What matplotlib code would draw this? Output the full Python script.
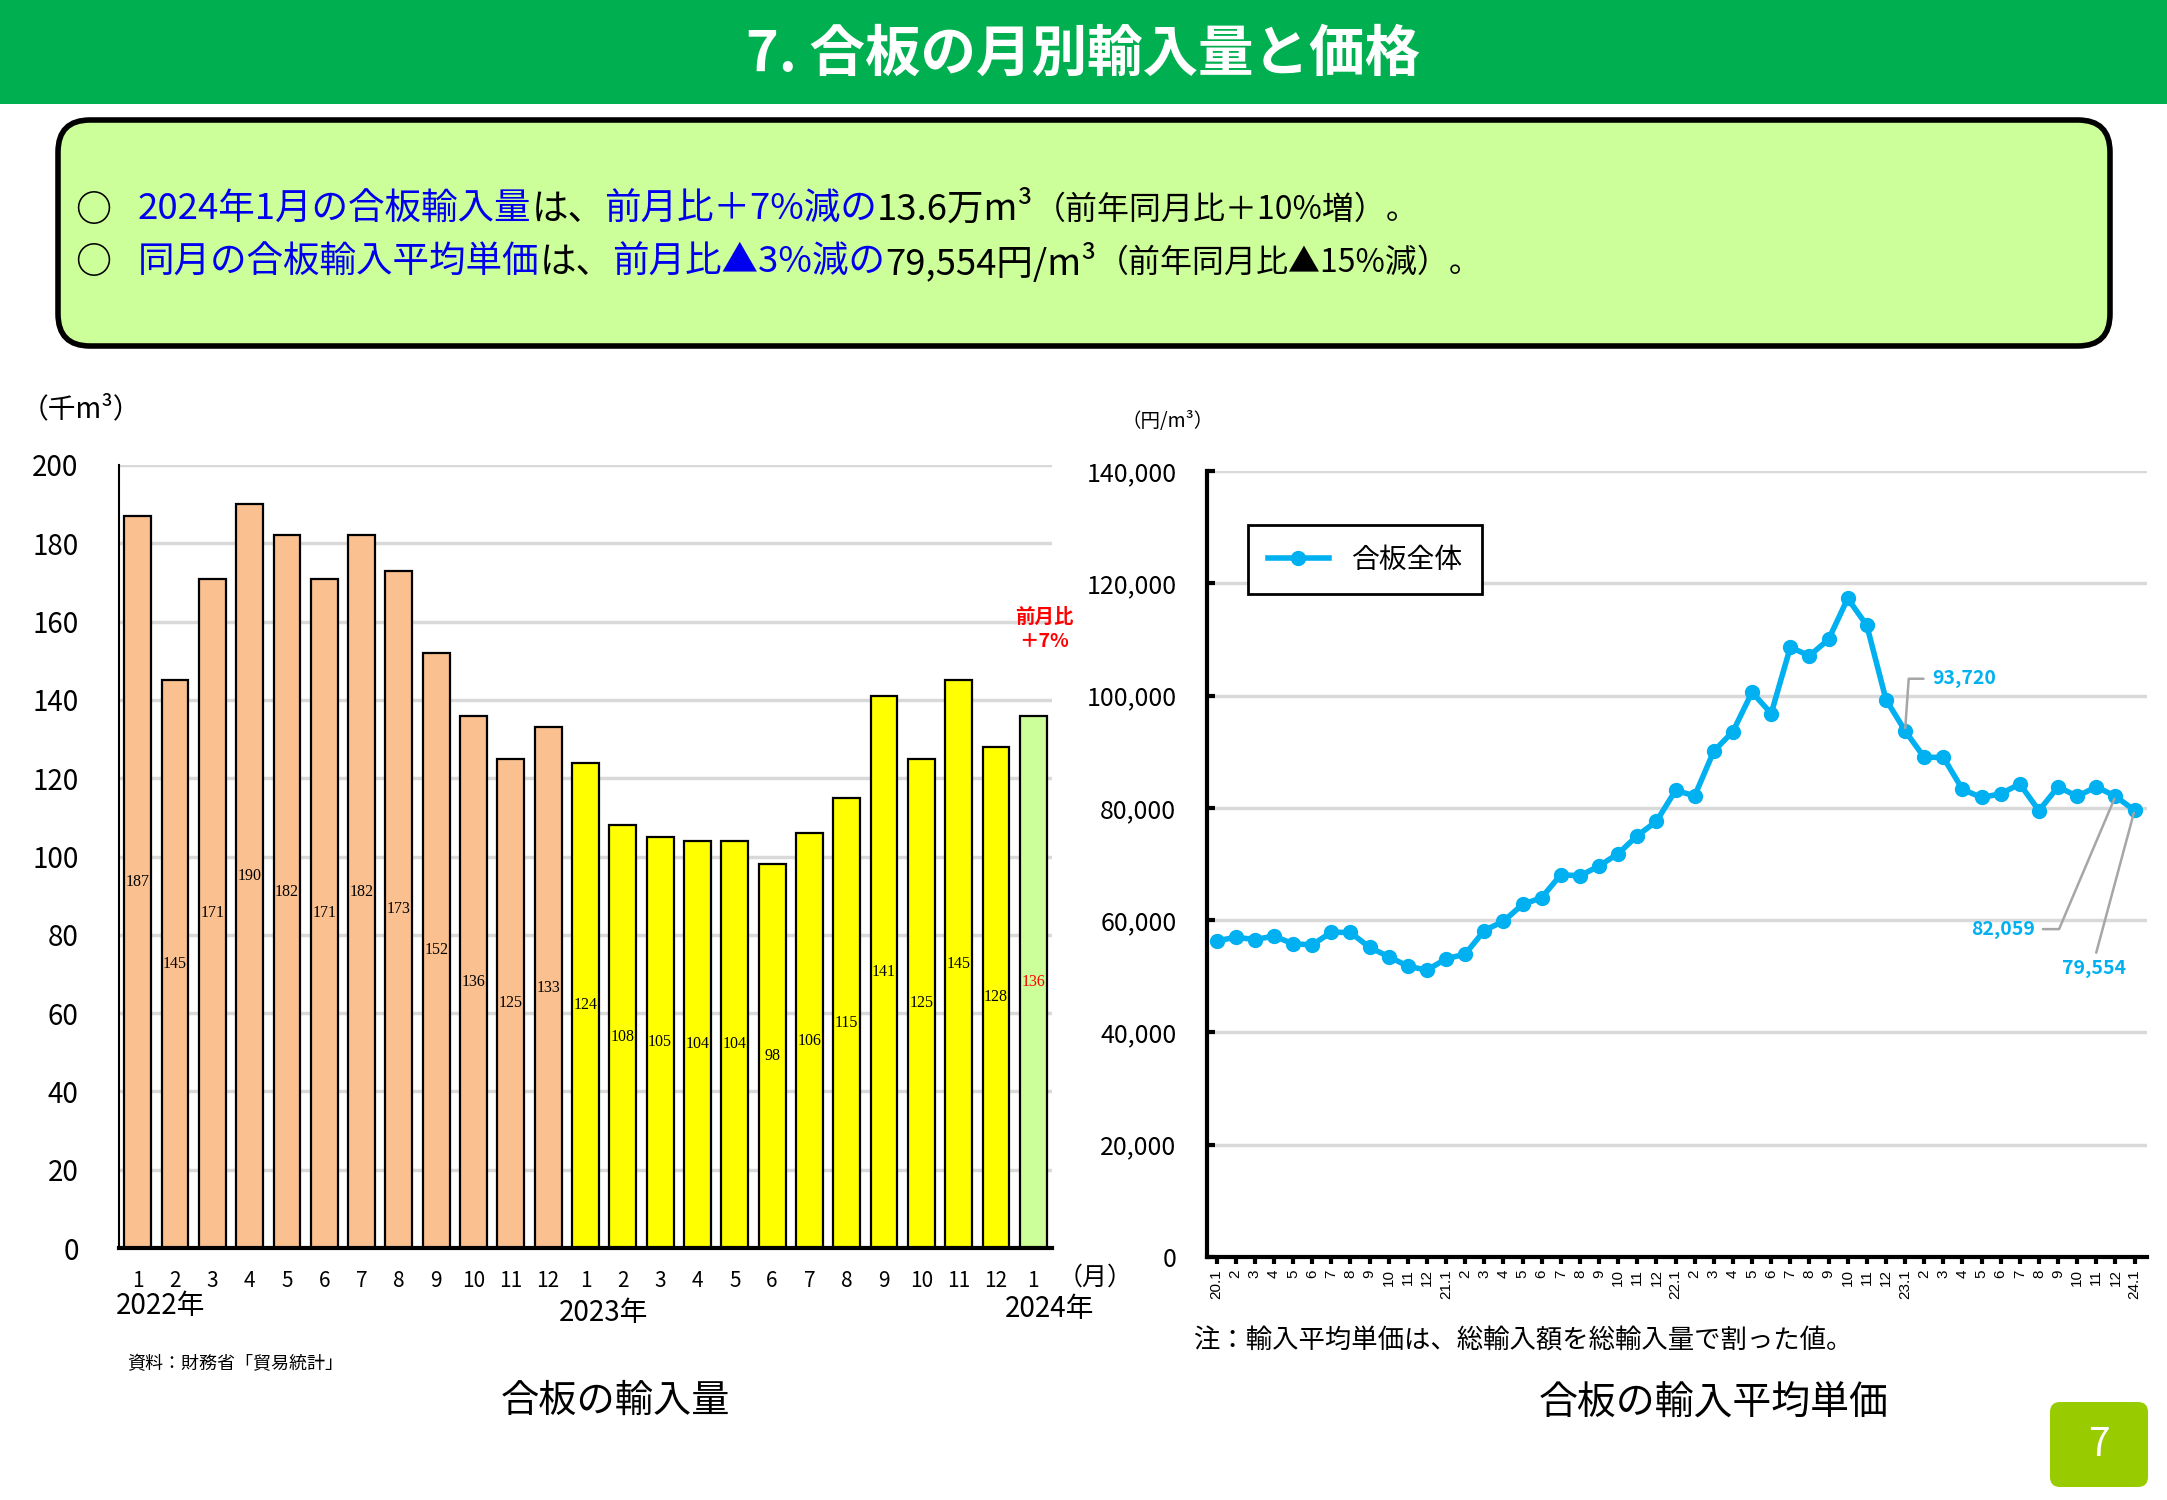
import matplotlib
matplotlib.use('Agg')
import matplotlib.pyplot as plt
from matplotlib.patches import Rectangle, FancyBboxPatch
from matplotlib.ticker import FuncFormatter

plt.rcParams['font.family'] = ['Noto Sans CJK JP', 'DejaVu Sans']

# 合板の輸入量（千m3）
months = ['1', '2', '3', '4', '5', '6', '7', '8', '9', '10', '11', '12',
          '1', '2', '3', '4', '5', '6', '7', '8', '9', '10', '11', '12', '1']
vol_2022 = [187, 145, 171, 190, 182, 171, 182, 173, 152, 136, 125, 133]
vol_2023 = [124, 108, 105, 104, 104, 98, 106, 115, 141, 125, 145, 128]
vol_2024 = [136]
year_labels = ['2022年', '2023年', '2024年']

# 合板の輸入平均単価（円/m3） 2020.1 - 2024.1
price = [56300, 56950, 56550, 57150, 55800, 55600, 57850, 57800, 55150, 53500, 51800, 51100,
         53100, 53950, 58150, 59800, 62800, 64000, 68100, 67900, 69650, 71850, 75050, 77600,
         83100, 82150, 90100, 93600, 100600, 96800, 108600, 107100, 110000, 117300, 112500, 99300,
         93720, 89000, 89000, 83300, 81850, 82500, 84250, 79500, 83750, 82050, 83750, 82059,
         79554]
price_years = ['20', '21', '22', '23', '24']
price_ticks = []
for yy in price_years:
    for m in range(1, 13):
        price_ticks.append(f'{yy}.1' if m == 1 else str(m))
price_ticks = price_ticks[:len(price)]

BLUE = '#0000EE'
LINE = '#00B0F0'

fig = plt.figure(figsize=(21.67, 15), dpi=100)

# overlay in pixel coordinates for page decorations
ov = fig.add_axes([0, 0, 1, 1])
ov.set_xlim(0, 2167)
ov.set_ylim(1500, 0)
ov.axis('off')

ov.add_patch(Rectangle((0, 0), 2167, 104, color='#00B050', lw=0))
ov.text(1083, 55, '7. 合板の月別輸入量と価格', color='white', fontsize=40,
        fontweight='bold', ha='center', va='center')

ov.add_patch(FancyBboxPatch((58, 120), 2052, 226, boxstyle='round,pad=0,rounding_size=32',
                            fc='#CCFF99', ec='black', lw=4))

fig.canvas.draw()
rend = fig.canvas.get_renderer()


def rich_line(x, y, parts):
    for s, c, size in parts:
        t = ov.text(x, y, s, color=c, fontsize=size, ha='left', va='center')
        x += t.get_window_extent(renderer=rend).width


ov.text(93, 210, '○', fontsize=26, fontweight='bold', ha='center', va='center')
ov.text(93, 263, '○', fontsize=26, fontweight='bold', ha='center', va='center')
rich_line(138, 210, [('2024年1月の合板輸入量', BLUE, 26.3), ('は、', 'black', 26.3),
                     ('前月比＋7%減の', BLUE, 26.3), ('13.6万m³', 'black', 26.3),
                     ('（前年同月比＋10%増）。', 'black', 23)])
rich_line(138, 263, [('同月の合板輸入平均単価', BLUE, 26.3), ('は、', 'black', 26.3),
                     ('前月比▲3%減の', BLUE, 26.3), ('79,554円/m³', 'black', 26.3),
                     ('（前年同月比▲15%減）。', 'black', 23)])

# ---------------- left: import volume ----------------
ax1 = fig.add_axes([119 / 2167, 1 - 1248 / 1500, 933 / 2167, 783 / 1500])
values = vol_2022 + vol_2023 + vol_2024
colors = ['#FAC090'] * len(vol_2022) + ['#FFFF00'] * len(vol_2023) + ['#CCFF99'] * len(vol_2024)
xs = list(range(len(values)))
ax1.bar(xs, values, width=0.72, color=colors, edgecolor='black', linewidth=1.6, zorder=3)
for x, v in zip(xs, values):
    c = 'red' if x == len(values) - 1 else 'black'
    ax1.text(x, v / 2, str(v), ha='center', va='center', fontsize=11.5,
             family='Liberation Serif', color=c, zorder=4)
ax1.text(24.3, 158, '前月比\n＋7%', color='red', fontsize=14, fontweight='bold',
         ha='center', va='center', linespacing=1.3)
ax1.set_xlim(-0.5, len(values) - 0.5)
ax1.set_ylim(0, 200)
ax1.set_yticks(range(0, 201, 20))
ax1.set_xticks(xs)
ax1.set_xticklabels(months)
ax1.tick_params(axis='y', length=0, pad=29, labelsize=20)
ax1.tick_params(axis='x', length=0, pad=16, labelsize=15)
ax1.grid(axis='y', color='#D9D9D9', lw=2.5, zorder=0)
for s in ['top', 'right']:
    ax1.spines[s].set_visible(False)
ax1.spines['left'].set_linewidth(1.5)
ax1.spines['bottom'].set_linewidth(3)
ax1.spines['bottom'].set_zorder(5)

ov.text(116, 1306, year_labels[0], fontsize=20, ha='left', va='center')
ov.text(604, 1313, year_labels[1], fontsize=20, ha='center', va='center')
ov.text(1050, 1309, year_labels[2], fontsize=20, ha='center', va='center')
ov.text(1095, 1278, '（月）', fontsize=18, ha='center', va='center')
ov.text(21, 409, '（千m³）', fontsize=20, ha='left', va='center')
ov.text(127, 1364, '資料：財務省「貿易統計」', fontsize=13, ha='left', va='center')
ov.text(615, 1401, '合板の輸入量', fontsize=27.5, ha='center', va='center')

# ---------------- right: average unit price ----------------
ax2 = fig.add_axes([1207 / 2167, 1 - 1257 / 1500, 940 / 2167, 786 / 1500])
px = list(range(len(price)))
ax2.plot(px, price, color=LINE, lw=4, marker='o', markersize=10, label='合板全体', zorder=3)
ax2.set_xlim(-0.5, len(price) - 0.35)
ax2.set_ylim(0, 140000)
ax2.set_yticks(range(0, 140001, 20000))
ax2.yaxis.set_major_formatter(FuncFormatter(lambda v, p: f'{int(v):,}'))
ax2.set_xticks(px)
ax2.set_xticklabels(price_ticks, rotation=90, fontsize=11, family='Liberation Sans')
ax2.tick_params(axis='y', direction='in', length=6, width=3, pad=22, labelsize=18)
ax2.tick_params(axis='x', direction='out', length=5, width=3, pad=4)
ax2.grid(axis='y', color='#D9D9D9', lw=2.5, zorder=0)
for s in ['top', 'right']:
    ax2.spines[s].set_visible(False)
ax2.spines['left'].set_linewidth(3)
ax2.spines['bottom'].set_linewidth(3)

lab = dict(color=LINE, fontsize=14, fontweight='bold', va='center')
ax2.annotate(f'{price[36]:,}', xy=(36, price[36]), xytext=(37.4, 103000), ha='left',
             arrowprops=dict(arrowstyle='-', color='#A6A6A6', lw=1.8, relpos=(0, 0.5),
                             shrinkA=4, shrinkB=2,
                             connectionstyle='angle,angleA=0,angleB=86,rad=0'), **lab)
ax2.annotate(f'{price[47]:,}', xy=(47, price[47]), xytext=(41.1, 58400), ha='center',
             arrowprops=dict(arrowstyle='-', color='#A6A6A6', lw=1.8, relpos=(1, 0.5),
                             shrinkA=4, shrinkB=2,
                             connectionstyle='angle,angleA=0,angleB=67,rad=0'), **lab)
ax2.annotate(f'{price[48]:,}', xy=(48, price[48]), xytext=(45.9, 51300), ha='center',
             arrowprops=dict(arrowstyle='-', color='#A6A6A6', lw=1.8, relpos=(0.5, 1),
                             shrinkA=3, shrinkB=2), **lab)

leg = ax2.legend(loc='upper left', bbox_to_anchor=(0.044, 0.931), borderaxespad=0,
                 fontsize=20, fancybox=False, edgecolor='black', framealpha=1,
                 handlelength=2.2, borderpad=0.7)
leg.get_frame().set_linewidth(2)

ov.text(1168, 421, '（円/m³）', fontsize=14, ha='center', va='center')
ov.text(1193, 1341, '注：輸入平均単価は、総輸入額を総輸入量で割った値。', fontsize=19,
        ha='left', va='center')
ov.text(1714, 1404, '合板の輸入平均単価', fontsize=28, ha='center', va='center')

ov.add_patch(FancyBboxPatch((2050, 1402), 98, 85, boxstyle='round,pad=0,rounding_size=10',
                            fc='#99CC00', ec='none'))
ov.text(2099, 1445, '7', color='white', fontsize=28, ha='center', va='center')

fig.savefig('out.png', dpi=100)
